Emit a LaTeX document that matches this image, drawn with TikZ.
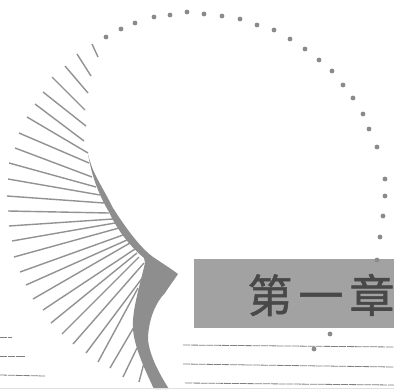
\documentclass[tikz,border=0pt]{standalone}
\usepackage{fontspec}
\newfontfamily\cjk[FakeBold=1.2]{Noto Sans CJK SC}
\definecolor{inkgray}{HTML}{929292}
\definecolor{beadgray}{HTML}{8A8A8A}
\definecolor{bargray}{HTML}{A2A2A2}
\definecolor{horngray}{HTML}{8E8E8E}
\definecolor{rulegray}{HTML}{808080}
\definecolor{txtgray}{HTML}{484848}
\tikzset{
  ray/.style={draw=inkgray,line width=1.4pt},
  beadmark/.style={circle,fill=beadgray,draw=none,minimum size=4.8pt,inner sep=0pt},
  textrule/.style={draw=rulegray,line width=0.8pt,dash pattern=on 7pt off 0.8pt},
}
\begin{document}
\begin{tikzpicture}[x=1pt,y=-1pt]
\useasboundingbox (0,0) rectangle (394,389);
\clip (0,0) rectangle (394,389);
\fill[white] (0,0) rectangle (394,389);
% rays
\foreach \ax/\ay/\bx/\by in {
92/44/98/57, 77/54/91/76, 65/66/88/93, 52/77/85/110, 43/92/86/126,
35/104/84/141, 27/117/88/153, 19/133/89/163, 15/148/92/177, 9/163/96/187,
8/179/100/195, 7/196/104/203, 8/211/109/213, 9/226/113/219, 12/241/115/223,
14/257/119/228, 20/272/123/235, 26/285/127/240, 33/299/130/243, 43/310/135/249,
51/323/137/253, 62/334/139/257, 73/344/144/263, 86/353/143/277, 98/362/138/288,
110/368/134/327, 123/377/137/348, 139/382/144/363, 153/386/156/378}{
  \draw[ray] (\ax,\ay) -- (\bx,\by);
}
% horn
\fill[horngray] (88,154) .. controls (93,175) and (100,182) .. (113,208)
  .. controls (122,222) and (138,246) .. (153,257)
  .. controls (162,263) and (170,268) .. (178,274)
  .. controls (172,283) and (168,288) .. (165,293)
  .. controls (156,302) and (149,318) .. (148,337)
  .. controls (148,352) and (158,372) .. (169,389)
  -- (154,389)
  .. controls (146,372) and (133,345) .. (133,327)
  .. controls (132,310) and (140,285) .. (145,263)
  -- (144,258)
  .. controls (132,248) and (118,232) .. (109,212)
  .. controls (100,197) and (92,178) .. (88,154) -- cycle;
% beads
\foreach \x/\y in {
106/37,121/29,135/23,154/17,170/15,187/12,204/14,222/16,240/19,257/25,274/30,
290/39,305/49,319/60,332/71,343/85,353/98,363/114,369/129,377/147,385/179,
385/196,383/216,380/237,330/334}{
  \node[beadmark] at (\x,\y) {};
}
% title bar
\fill[bargray] (194,259) rectangle (394,328);
\node[beadmark] at (377,260) {};
\node[font=\cjk\fontsize{45}{45}\selectfont,text=txtgray,anchor=center,inner sep=0pt] (title) at (321,295) {第\kern6pt 一\kern6pt 章};
% text rules
\draw[textrule] (183,345) -- (394,347);
\draw[textrule] (183,364) -- (394,367);
\draw[textrule] (185,383) -- (394,385);
\draw[textrule] (0,337) -- (12,337);
\draw[textrule] (0,356) -- (25,356);
\draw[textrule] (0,375) -- (45,376);
\node[beadmark] at (314,349) {};
\fill[black!12] (0,387.5) rectangle (394,389);
\end{tikzpicture}
\end{document}
